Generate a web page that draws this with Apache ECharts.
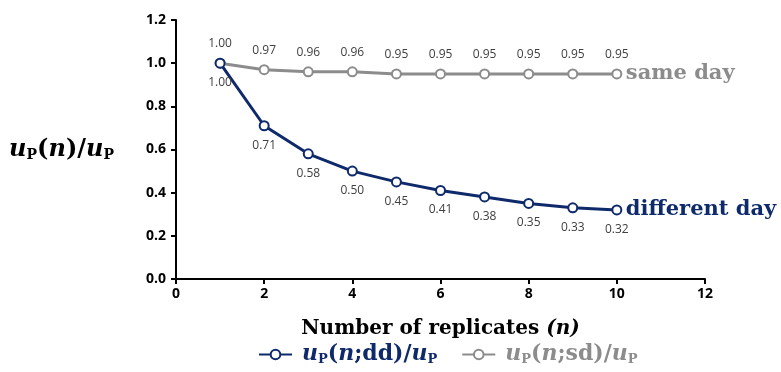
<!DOCTYPE html>
<html>
<head>
<meta charset="utf-8">
<script src="https://cdn.jsdelivr.net/npm/echarts@6/dist/echarts.min.js"></script>
<style>
  html, body { margin: 0; padding: 0; background: #fff; }
  #chart { width: 781px; height: 372px; }
</style>
</head>
<body>
<div id="chart"></div>
<script>
// number of replicates
const replicates = [1, 2, 3, 4, 5, 6, 7, 8, 9, 10];
// ratio for different day / same day
const diffDay = [1.00, 0.71, 0.58, 0.50, 0.45, 0.41, 0.38, 0.35, 0.33, 0.32];
const sameDay = [1.00, 0.97, 0.96, 0.96, 0.95, 0.95, 0.95, 0.95, 0.95, 0.95];
const seriesNames = ["dd", "sd"];
const endNames = ["different day", "same day"];

const navy = "#0f2a6b";
const gray = "#8c8c8c";
const serif = "DejaVu Serif";

// rich styles for the math-like text
const mathRich = (size) => ({
  i: { fontFamily: serif, fontStyle: "italic", fontWeight: "bold", fontSize: size },
  r: { fontFamily: serif, fontWeight: "bold", fontSize: size },
  s: { fontFamily: serif, fontWeight: "bold", fontSize: Math.round(size * 0.6), padding: [Math.round(size * 0.45), 0, 0, 0] },
  sp: { width: 5 },
});

const chart = echarts.init(document.getElementById("chart"));

const toPairs = (ys) => replicates.map((x, i) => [x, ys[i]]);

const option = {
  animation: false,
  grid: { left: 176, right: 76, top: 20, bottom: 93, outerBoundsMode: "none", containLabel: false },
  xAxis: {
    type: "value",
    min: 0,
    max: 12,
    interval: 2,
    splitLine: { show: false },
    axisLine: { lineStyle: { color: "#000", width: 2 } },
    axisTick: { show: true, inside: false, length: 5, lineStyle: { color: "#000", width: 2 } },
    axisLabel: { color: "#000", fontWeight: "bold", fontSize: 14, fontFamily: "Open Sans", margin: 8 },
    name: "Number of replicates {i|(n)}",
    nameLocation: "middle",
    nameGap: 40,
    nameTextStyle: {
      color: "#000",
      fontFamily: serif,
      fontWeight: "bold",
      fontSize: 20,
      rich: { i: { fontFamily: serif, fontStyle: "italic", fontWeight: "bold", fontSize: 20 } },
    },
  },
  yAxis: {
    type: "value",
    min: 0,
    max: 1.2,
    interval: 0.2,
    splitLine: { show: false },
    axisLine: { show: true, lineStyle: { color: "#000", width: 2 } },
    axisTick: { show: true, inside: false, length: 5, lineStyle: { color: "#000", width: 2 } },
    axisLabel: {
      color: "#000",
      fontWeight: "bold",
      fontSize: 14,
      fontFamily: "Open Sans",
      margin: 10,
      formatter: (v) => v.toFixed(1),
    },
    name: "{i|u}{s|P}{r|(}{i|n}{r|)/}{i|u}{s|P}",
    nameLocation: "middle",
    nameRotate: 0,
    nameGap: 62,
    nameTextStyle: { color: "#000", rich: mathRich(24) },
  },
  legend: {
    bottom: 1,
    left: 253,
    itemWidth: 33,
    itemHeight: 12,
    itemGap: 24,
    data: [
      { name: "dd", textStyle: { color: navy } },
      { name: "sd", textStyle: { color: gray } },
    ],
    formatter: (name) => "{sp|}{i|u}{s|P}{r|(}{i|n}{r|;" + name + ")/}{i|u}{s|P}",
    textStyle: { rich: mathRich(22) },
  },
  series: [
    {
      name: seriesNames[0],
      type: "line",
      data: toPairs(diffDay),
      color: navy,
      symbol: "circle",
      symbolSize: 9,
      lineStyle: { color: navy, width: 3 },
      itemStyle: { color: "#fff", borderColor: navy, borderWidth: 2 },
      label: {
        show: true,
        position: "bottom",
        distance: 8,
        color: "#404040",
        fontSize: 12,
        fontFamily: "Open Sans",
        formatter: (p) => p.value[1].toFixed(2),
      },
      endLabel: {
        show: true,
        formatter: endNames[0],
        color: navy,
        fontFamily: serif,
        fontWeight: "bold",
        fontSize: 21,
        distance: 9,
      },
      z: 3,
    },
    {
      name: seriesNames[1],
      type: "line",
      data: toPairs(sameDay),
      color: gray,
      symbol: "circle",
      symbolSize: 9,
      lineStyle: { color: gray, width: 3 },
      itemStyle: { color: "#fff", borderColor: gray, borderWidth: 2 },
      label: {
        show: true,
        position: "top",
        distance: 8,
        color: "#404040",
        fontSize: 12,
        fontFamily: "Open Sans",
        formatter: (p) => p.value[1].toFixed(2),
      },
      endLabel: {
        show: true,
        formatter: endNames[1],
        color: gray,
        fontFamily: serif,
        fontWeight: "bold",
        fontSize: 21,
        distance: 9,
      },
      z: 2,
    },
  ],
};

chart.setOption(option);
window.addEventListener("resize", () => chart.resize());
</script>
</body>
</html>
